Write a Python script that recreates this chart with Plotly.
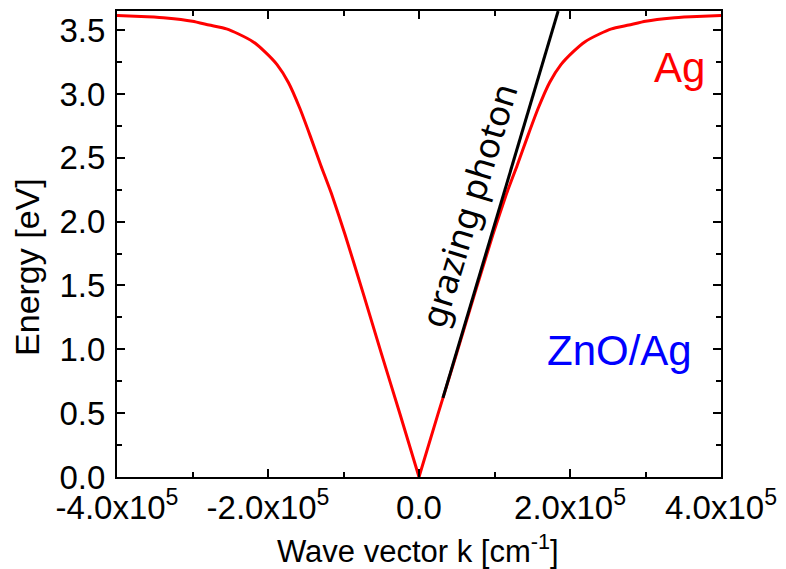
import plotly.graph_objects as go

# Surface plasmon dispersion on Ag (wave vector in cm^-1, energy in eV), two branches
k_ag_neg = [-4.0e5, -3.6e5, -3.35e5, -3.0e5, -2.78e5, -2.55e5, -2.39e5, -2.2e5, -2.04e5,
            -1.88e5, -1.73e5, -1.58e5, -1.44e5, -1.30e5, -1.16e5, -0.98e5, -0.74e5,
            -0.5e5, -0.25e5, 0.0]
e_ag_neg = [3.615, 3.605, 3.596, 3.57, 3.54, 3.51, 3.47, 3.41, 3.33,
            3.23, 3.09, 2.89, 2.67, 2.44, 2.22, 1.90, 1.44,
            0.97, 0.49, 0.0]
k_ag_pos = [0.0, 0.25e5, 0.5e5, 0.74e5, 0.98e5, 1.16e5, 1.30e5, 1.44e5, 1.58e5, 1.73e5,
            1.88e5, 2.04e5, 2.2e5, 2.39e5, 2.55e5, 2.78e5, 3.0e5, 3.35e5, 3.6e5, 4.0e5]
e_ag_pos = [0.0, 0.49, 0.97, 1.44, 1.90, 2.22, 2.44, 2.67, 2.89, 3.09,
            3.23, 3.33, 3.41, 3.47, 3.51, 3.54, 3.57, 3.596, 3.605, 3.615]

# Grazing photon (light line) segment
k_photon = [0.317e5, 1.843e5]
e_photon = [0.62, 3.65]

x_tickvals = [-4e5, -2e5, 0, 2e5, 4e5]
x_ticktext = ["-4.0x10<sup>5</sup>", "-2.0x10<sup>5</sup>", "0.0",
              "2.0x10<sup>5</sup>", "4.0x10<sup>5</sup>"]

FONT = "Liberation Sans, Arial, sans-serif"

fig = go.Figure()
for kk, ee in ((k_ag_neg, e_ag_neg), (k_ag_pos, e_ag_pos)):
    fig.add_trace(go.Scatter(x=kk, y=ee, mode="lines",
                             line=dict(color="#ff0000", width=3, shape="spline", smoothing=0.5),
                             showlegend=False, cliponaxis=False))
fig.add_trace(go.Scatter(x=k_photon, y=e_photon, mode="lines",
                         line=dict(color="#000000", width=3),
                         showlegend=False))

axis_common = dict(showline=True, linecolor="black", linewidth=2, mirror="ticks",
                   ticks="inside", tickcolor="black", tickwidth=2, ticklen=8,
                   showgrid=False, zeroline=False,
                   tickfont=dict(family=FONT, size=33, color="black"))

fig.update_xaxes(range=[-4e5, 4e5], tickmode="array", tickvals=x_tickvals,
                 ticktext=x_ticktext, ticklabelstandoff=0,
                 minor=dict(dtick=1e5, ticks="inside", ticklen=5, tickwidth=2,
                            tickcolor="black", showgrid=False),
                 **axis_common)
fig.update_yaxes(range=[0, 3.65], dtick=0.5, tick0=0, tickformat=".1f",
                 ticklabelstandoff=3,
                 minor=dict(dtick=0.25, ticks="inside", ticklen=5, tickwidth=2,
                            tickcolor="black", showgrid=False),
                 **axis_common)

annotations = [
    dict(text="Energy [eV]", x=26, y=266, textangle=-90,
         font=dict(family=FONT, size=34, color="black")),
    dict(text="Wave vector k [cm<sup>-1</sup>]", x=421, y=549,
         font=dict(family=FONT, size=31, color="black")),
    dict(text="Ag", x=686, y=66, font=dict(family=FONT, size=42, color="#ff0000")),
    dict(text="ZnO/Ag", x=625, y=350, font=dict(family=FONT, size=42, color="#0000ff")),
    dict(text="grazing photon", x=472, y=204, textangle=-73,
         font=dict(family="Noto Sans", size=35, color="black")),
]

# place annotations in pixel coordinates of the 786x569 page
W, H = 786, 569
L, R, T, B = 117, 58, 9, 92
pw, ph = W - L - R, H - T - B
for a in annotations:
    a["x"] = (a["x"] - L) / pw
    a["y"] = 1 - (a["y"] - T) / ph
    a.update(xref="paper", yref="paper", showarrow=False,
             xanchor="center", yanchor="middle")
fig.update_layout(annotations=annotations)

fig.update_layout(width=W, height=H, margin=dict(l=L, r=R, t=T, b=B),
                  paper_bgcolor="white", plot_bgcolor="white",
                  font=dict(family=FONT, color="black"))

fig.write_html("out.html")
